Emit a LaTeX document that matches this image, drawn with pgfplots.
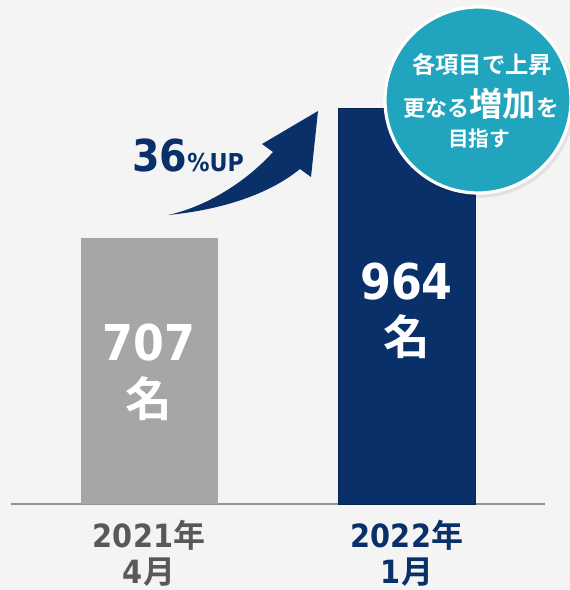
\documentclass[border=0pt]{standalone}
\usepackage{pgfplots}
\pgfplotsset{compat=1.18}
\usepackage{fontspec}
\setmainfont{DejaVu Sans}
\newfontfamily\numfont{DejaVu Sans Condensed}
\newfontfamily\cjk{Noto Sans CJK JP Bold}
\definecolor{bg}{HTML}{F4F4F4}
\definecolor{barA}{HTML}{A6A6A6}
\definecolor{navy}{HTML}{0A3069}
\definecolor{lblgray}{HTML}{595959}
\definecolor{tealc}{HTML}{21A5BE}
\newcommand{\fs}[1]{\fontsize{#1}{#1}\selectfont}
\begin{document}
\begin{tikzpicture}
\begin{scope}[x=0.75pt,y=-0.75pt]
\fill[bg] (0,0) rectangle (570,590);
\end{scope}
\begin{axis}[
  at={(8.25pt,-378pt)}, anchor=south west,
  scale only axis, width=400.5pt, height=378pt,
  xmin=-0.535, xmax=1.535, ymin=181.1, ymax=1177.5,
  axis x line=bottom, hide y axis,
  x axis line style={-, draw=gray!85, line width=1.4pt},
  major tick length=0pt,
  xtick={0,1},
  xticklabels={
    {\textcolor{lblgray}{{\numfont\bfseries 2021}{\cjk 年}}\\\textcolor{lblgray}{{\numfont\bfseries 4}{\cjk 月}}},
    {\textcolor{navy}{{\numfont\bfseries 2022}{\cjk 年}}\\\textcolor{navy}{{\numfont\bfseries 1}{\cjk 月}}}
  },
  xticklabel style={align=center, font=\fontsize{24}{27}\selectfont, anchor=north, yshift=-8.5pt},
  ybar, bar width=102.75pt, bar shift=0pt,
]
\addplot[fill=barA, draw=none] coordinates {(0,707)};
\addplot[fill=navy, draw=navy!75!black, line width=0.6pt] coordinates {(1,964)};
\end{axis}
\begin{scope}[x=0.75pt,y=-0.75pt]
% value labels
\node[text=white] at (149,343) {\numfont\bfseries\fs{37}707};
\node[text=white] at (149,399) {\cjk\fs{35}名};
\node[text=white] at (406.5,282) {\numfont\bfseries\fs{37}964};
\node[text=white] at (406.5,337) {\cjk\fs{35}名};
% arrow
\fill[navy] (168,215) .. controls (220,210) and (268,195) .. (300,169)
  -- (311,177) -- (318,111) -- (262,144) -- (273,152)
  .. controls (245,183) and (205,207) .. (168,215) -- cycle;
\node[anchor=base west, text=navy, inner sep=0pt] at (132,171)
  {{\numfont\bfseries\fs{33}36}{\numfont\bfseries\fs{18.5}\%UP}};
% badge
\fill[black, opacity=0.07] (480,103) circle[radius=71pt];
\filldraw[fill=tealc, draw=white, line width=2.4pt] (478,100) circle[radius=69.75pt];
\node[text=white, anchor=base] at (482,73) {\cjk\fs{17.5}各項目で上昇};
\node[text=white, anchor=base] at (481,116) {\cjk{\fs{16.5}更なる}{\fs{25}増加}{\fs{17}を}};
\node[text=white, anchor=base] at (479,146) {\cjk\fs{15.5}目指す};
\end{scope}
\pgfresetboundingbox
\useasboundingbox (0,0) rectangle (427.5pt,-442.5pt);
\end{tikzpicture}
\end{document}
